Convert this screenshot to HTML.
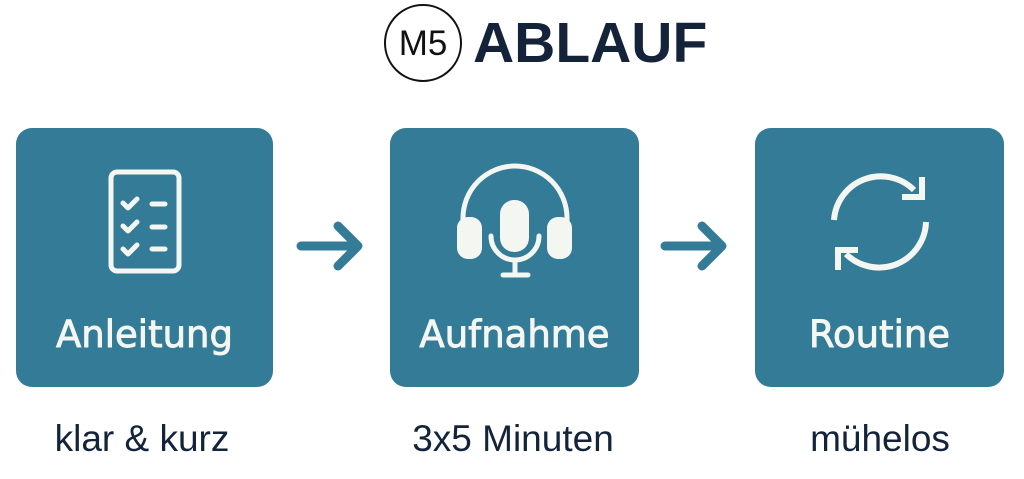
<!DOCTYPE html>
<html><head><meta charset="utf-8"><style>
body{margin:0;width:1024px;height:479px;background:#fff;position:relative;overflow:hidden;font-family:"Liberation Sans",sans-serif}
.box{position:absolute;top:128px;height:259px;background:#337b97;border-radius:16px}
.lab{position:absolute;top:185px;width:100%;text-align:center;color:#f4f6f2;font-size:37px;font-family:"DejaVu Sans","Liberation Sans",sans-serif;-webkit-text-stroke:0.9px #f4f6f2}
.cap{position:absolute;top:418px;color:#13233a;font-size:37px;text-align:center;width:300px}
svg{position:absolute;left:0;top:0}
</style></head><body>
<div class="box" style="left:16px;width:257px"><div class="lab">Anleitung</div></div>
<div class="box" style="left:390px;width:249px"><div class="lab">Aufnahme</div></div>
<div class="box" style="left:755px;width:249px"><div class="lab">Routine</div></div>
<div style="position:absolute;left:384px;top:4px;width:78px;height:78px;border:2.5px solid #111;border-radius:50%;box-sizing:border-box;text-align:center;line-height:76px;font-size:35px;color:#111">M5</div>
<div style="position:absolute;left:473px;top:10px;font-size:57px;font-weight:bold;color:#14233a">ABLAUF</div>
<div class="cap" style="left:-8px">klar &amp; kurz</div>
<div class="cap" style="left:363px">3x5 Minuten</div>
<div class="cap" style="left:730px">mühelos</div>
<svg width="1024" height="479" fill="none" stroke-linecap="round" stroke-linejoin="round">
<g stroke="#337b97" stroke-width="9">
<path d="M301 246H357M338 226L358 246L338 266"/>
<path d="M665 246H721M702 226L722 246L702 266"/>
</g>
<g stroke="#f4f6f2" stroke-width="5">
<rect x="111" y="172" width="68" height="99" rx="6"/>
<path d="M123 203l5 5 9-9M123 226l5 5 9-9M123 249l5 5 9-9" />
<path d="M152 204h13M152 227h13M152 249h13"/>
</g>
<g fill="#f4f6f2" stroke="none">
<rect x="457" y="217" width="25" height="42" rx="11"/>
<rect x="547" y="217" width="25" height="42" rx="11"/>
<rect x="500" y="200" width="29" height="52" rx="14"/>
</g>
<g stroke="#f4f6f2" stroke-width="5">
<path d="M463 222V218a52 52 0 0 1 104 0V222"/>
<path d="M491 236a24 24 0 0 0 48 0M515 260v14M503 275h25"/>
</g>
<g stroke="#f4f6f2" stroke-width="6" stroke-linecap="butt" stroke-linejoin="miter">
<path d="M834 220A47 47 0 0 1 914 190"/>
<path d="M926 222A47 47 0 0 1 846 254"/>
<path d="M922 177V197H902"/>
<path d="M838 270V250H858"/>
</g>
</svg>
</body></html>
